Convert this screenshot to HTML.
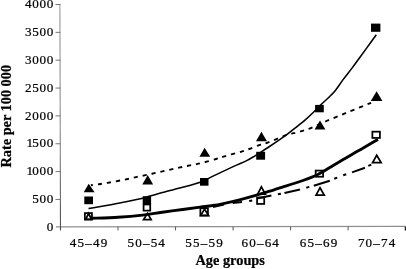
<!DOCTYPE html>
<html><head><meta charset="utf-8"><title>Rate per 100 000 by age groups</title>
<style>
html,body{margin:0;padding:0;background:#fff;}
body{width:406px;height:269px;overflow:hidden;}
svg{display:block;}
text{font-family:"Liberation Serif","DejaVu Serif",serif;fill:#000;stroke:#000;stroke-width:0.22px;}
.tick{font-size:13.1px;}
.ttl{font-size:13.5px;font-weight:bold;}
</style></head><body>
<svg width="406" height="269" viewBox="0 0 406 269">
<rect x="0" y="0" width="406" height="269" fill="#fff"/>

<line x1="56" y1="226.9" x2="406" y2="226.4" stroke="#909090" stroke-width="1.2"/>
<defs><linearGradient id="ag" gradientUnits="userSpaceOnUse" x1="0" y1="4" x2="0" y2="230"><stop offset="0" stop-color="#9a9a9a"/><stop offset="0.6" stop-color="#8a8a8a"/><stop offset="1" stop-color="#505050"/></linearGradient></defs><line x1="59.9" y1="4.0" x2="60.5" y2="230.6" stroke="url(#ag)" stroke-width="1.1"/>
<line x1="55.5" y1="4.50" x2="60.5" y2="4.50" stroke="#777" stroke-width="1"/>
<text class="tick" x="24.90 32.20 39.50 46.80" y="8.20">4000</text>
<line x1="55.5" y1="32.35" x2="60.5" y2="32.35" stroke="#777" stroke-width="1"/>
<text class="tick" x="24.90 32.20 39.50 46.80" y="36.05">3500</text>
<line x1="55.5" y1="60.20" x2="60.5" y2="60.20" stroke="#777" stroke-width="1"/>
<text class="tick" x="24.90 32.20 39.50 46.80" y="63.90">3000</text>
<line x1="55.5" y1="88.05" x2="60.5" y2="88.05" stroke="#777" stroke-width="1"/>
<text class="tick" x="24.90 32.20 39.50 46.80" y="91.75">2500</text>
<line x1="55.5" y1="115.90" x2="60.5" y2="115.90" stroke="#777" stroke-width="1"/>
<text class="tick" x="24.90 32.20 39.50 46.80" y="119.60">2000</text>
<line x1="55.5" y1="143.75" x2="60.5" y2="143.75" stroke="#777" stroke-width="1"/>
<text class="tick" x="26.50 32.20 39.50 46.80" y="147.45">1500</text>
<line x1="55.5" y1="171.60" x2="60.5" y2="171.60" stroke="#777" stroke-width="1"/>
<text class="tick" x="26.50 32.20 39.50 46.80" y="175.30">1000</text>
<line x1="55.5" y1="199.45" x2="60.5" y2="199.45" stroke="#777" stroke-width="1"/>
<text class="tick" x="32.20 39.50 46.80" y="203.15">500</text>
<text class="tick" x="46.80" y="230.60">0</text>
<line x1="118.02" y1="226.70000000000002" x2="118.02" y2="230.4" stroke="#5a5a5a" stroke-width="1"/>
<line x1="175.54" y1="226.70000000000002" x2="175.54" y2="230.4" stroke="#5a5a5a" stroke-width="1"/>
<line x1="233.06" y1="226.70000000000002" x2="233.06" y2="230.4" stroke="#5a5a5a" stroke-width="1"/>
<line x1="290.58" y1="226.70000000000002" x2="290.58" y2="230.4" stroke="#5a5a5a" stroke-width="1"/>
<line x1="348.10" y1="226.70000000000002" x2="348.10" y2="230.4" stroke="#5a5a5a" stroke-width="1"/>
<line x1="405.4" y1="226.70000000000002" x2="405.4" y2="230.6" stroke="#222" stroke-width="1.4"/>
<text class="tick" x="88.5" y="247.2" text-anchor="middle" textLength="37.4" lengthAdjust="spacing">45–49</text>
<text class="tick" x="146.2" y="247.2" text-anchor="middle" textLength="37.4" lengthAdjust="spacing">50–54</text>
<text class="tick" x="204.0" y="247.2" text-anchor="middle" textLength="37.4" lengthAdjust="spacing">55–59</text>
<text class="tick" x="260.2" y="247.2" text-anchor="middle" textLength="37.4" lengthAdjust="spacing">60–64</text>
<text class="tick" x="318.5" y="247.2" text-anchor="middle" textLength="37.4" lengthAdjust="spacing">65–69</text>
<text class="tick" x="376.6" y="247.2" text-anchor="middle" textLength="37.4" lengthAdjust="spacing">70–74</text>
<text class="ttl" style="font-size:14.35px" x="230.2" y="265.4" text-anchor="middle">Age groups</text>
<text class="ttl" style="font-size:14.3px" transform="translate(10.6,167.5) rotate(-90) scale(1,1.05)">Rate per 100 000</text>
<path d="M88.5,208.6 C92.83,207.85 106.47,205.60 114.5,204.1 C122.53,202.60 130.78,200.93 136.7,199.6 C142.62,198.27 145.73,197.28 150,196.1 C154.27,194.92 156.53,194.05 162.3,192.5 C168.07,190.95 178.28,188.52 184.6,186.8 C190.92,185.08 195.97,183.73 200.2,182.2 C204.43,180.67 206.72,179.15 210,177.6 C213.28,176.05 215.77,174.85 219.9,172.9 C224.03,170.95 230.33,167.95 234.8,165.9 C239.27,163.85 243.33,162.28 246.7,160.6 C250.07,158.92 252.45,157.35 255,155.8 C257.55,154.25 259.58,152.85 262,151.3 C264.42,149.75 266.62,148.40 269.5,146.5 C272.38,144.60 276.15,142.10 279.3,139.9 C282.45,137.70 285.50,135.48 288.4,133.3 C291.30,131.12 293.93,129.00 296.7,126.8 C299.47,124.60 302.12,122.60 305,120.1 C307.88,117.60 311.10,114.60 314,111.8 C316.90,109.00 319.13,106.50 322.4,103.3 C325.67,100.10 330.18,96.50 333.6,92.6 C337.02,88.70 339.80,84.02 342.9,79.9 C346.00,75.78 349.57,71.38 352.2,67.9 C354.83,64.42 356.27,62.33 358.7,59.0 C361.13,55.67 363.87,51.93 366.8,47.9 C369.73,43.87 374.72,36.98 376.3,34.8" fill="none" stroke="#000" stroke-width="1.55"/>
<path d="M91.6,218.3 C96.00,218.12 109.50,217.73 118,217.2 C126.50,216.67 135.22,215.93 142.6,215.1 C149.98,214.27 155.30,213.18 162.3,212.2 C169.30,211.22 178.28,210.05 184.6,209.2 C190.92,208.35 195.63,207.70 200.2,207.1 C204.77,206.50 208.33,206.15 212,205.6 C215.67,205.05 217.62,204.77 222.2,203.8 C226.78,202.83 233.75,201.23 239.5,199.8 C245.25,198.37 250.95,196.87 256.7,195.2 C262.45,193.53 269.70,191.13 274,189.8 C278.30,188.47 277.68,188.75 282.5,187.2 C287.32,185.65 297.10,182.58 302.9,180.5 C308.70,178.42 312.52,177.05 317.3,174.7 C322.08,172.35 327.12,169.02 331.6,166.4 C336.08,163.78 340.13,161.38 344.2,159.0 C348.27,156.62 351.98,154.42 356,152.1 C360.02,149.78 364.63,147.22 368.3,145.1 C371.97,142.98 376.38,140.35 378,139.4" fill="none" stroke="#000" stroke-width="2.9"/>
<path d="M90.9,185.3 C92.22,185.12 96.05,184.60 98.8,184.2 C101.55,183.80 104.07,183.47 107.4,182.9 C110.73,182.33 115.18,181.50 118.8,180.8 C122.42,180.10 125.80,179.42 129.1,178.7 C132.40,177.98 135.47,177.17 138.6,176.5 C141.73,175.83 144.82,175.35 147.9,174.7 C150.98,174.05 154.03,173.30 157.1,172.6 C160.17,171.90 163.25,171.20 166.3,170.5 C169.35,169.80 172.38,169.07 175.4,168.4 C178.42,167.73 181.30,167.13 184.4,166.5 C187.50,165.87 190.75,165.27 194,164.6 C197.25,163.93 200.22,163.43 203.9,162.5 C207.58,161.57 212.85,159.98 216.1,159.0 C219.35,158.02 220.72,157.40 223.4,156.6 C226.08,155.80 229.17,155.03 232.2,154.2 C235.23,153.37 238.77,152.47 241.6,151.6 C244.43,150.73 246.37,150.03 249.2,149 C252.03,147.97 255.60,146.43 258.6,145.4 C261.60,144.37 262.60,144.50 267.2,142.8 C271.80,141.10 281.03,136.98 286.2,135.2 C291.37,133.42 294.18,133.25 298.2,132.1 C302.22,130.95 305.58,130.15 310.3,128.3 C315.02,126.45 320.22,123.68 326.5,121.0 C332.78,118.32 340.57,115.23 348,112.2 C355.43,109.17 367.25,104.37 371.1,102.8" fill="none" stroke="#000" stroke-width="1.9" stroke-dasharray="4.2 4.9" stroke-dashoffset="2"/>
<line x1="213" y1="206.9" x2="224" y2="204.6" stroke="#000" stroke-width="2"/>
<line x1="232.6" y1="202.9" x2="242" y2="201.9" stroke="#000" stroke-width="2"/>
<line x1="249.2" y1="201.0" x2="252.2" y2="200.4" stroke="#000" stroke-width="2"/>
<line x1="256.7" y1="198.6" x2="271.4" y2="195.4" stroke="#000" stroke-width="2"/>
<line x1="277.9" y1="194.3" x2="280.9" y2="193.7" stroke="#000" stroke-width="2"/>
<line x1="284.5" y1="193" x2="300.0" y2="189.5" stroke="#000" stroke-width="2"/>
<line x1="306.3" y1="187.8" x2="309.3" y2="186.9" stroke="#000" stroke-width="2"/>
<line x1="313.8" y1="185.7" x2="329.8" y2="180.7" stroke="#000" stroke-width="2"/>
<line x1="334.2" y1="178.7" x2="337.2" y2="177.6" stroke="#000" stroke-width="2"/>
<line x1="343.2" y1="175.3" x2="346.2" y2="174.2" stroke="#000" stroke-width="2"/>
<line x1="352" y1="172.4" x2="365" y2="167.8" stroke="#000" stroke-width="2"/>
<line x1="368.3" y1="165.9" x2="371.3" y2="164.6" stroke="#000" stroke-width="2"/>
<rect x="84.3" y="196.5" width="8.70" height="7.70" fill="#000"/>
<rect x="142.7" y="196.2" width="8.40" height="7.80" fill="#000"/>
<rect x="200" y="178" width="8.50" height="7.70" fill="#000"/>
<rect x="256.2" y="151.8" width="8.90" height="7.90" fill="#000"/>
<rect x="315.1" y="104.9" width="8.70" height="7.40" fill="#000"/>
<rect x="371" y="23.6" width="9.40" height="8.20" fill="#000"/>
<polygon points="88.7,183.7 94.6,192.3 83.7,192.3" fill="#000"/>
<polygon points="147.7,175.0 153.1,184.5 142.3,184.5" fill="#000"/>
<polygon points="204.6,147.8 210.2,156.8 199.4,156.8" fill="#000"/>
<polygon points="261.4,131.8 267.0,141.3 256.0,141.3" fill="#000"/>
<polygon points="320.0,120.5 325.4,129.5 314.5,129.5" fill="#000"/>
<polygon points="376.6,91.3 382.4,100.9 370.8,100.9" fill="#000"/>
<rect x="84.875" y="213.075" width="7.05" height="6.45" fill="none" stroke="#000" stroke-width="1.75"/>
<rect x="143.575" y="204.475" width="6.65" height="6.15" fill="none" stroke="#000" stroke-width="1.75"/>
<rect x="200.375" y="208.275" width="7.55" height="7.15" fill="none" stroke="#000" stroke-width="1.75"/>
<rect x="257.075" y="197.475" width="7.15" height="6.45" fill="none" stroke="#000" stroke-width="1.75"/>
<rect x="315.675" y="170.575" width="7.45" height="6.15" fill="none" stroke="#000" stroke-width="1.75"/>
<rect x="372.375" y="131.675" width="7.55" height="6.25" fill="none" stroke="#000" stroke-width="1.75"/>
<polygon points="88.6,213.5 91.5,219.39999999999998 85.7,219.39999999999998" fill="none" stroke="#000" stroke-width="1.75" stroke-linejoin="miter"/>
<polygon points="147.5,213.4 151.1,219.5 143.60000000000002,219.5" fill="none" stroke="#000" stroke-width="1.75" stroke-linejoin="miter"/>
<polygon points="204.5,209.1 208.6,215.6 200.70000000000002,215.6" fill="none" stroke="#000" stroke-width="1.75" stroke-linejoin="miter"/>
<polygon points="261.4,186.8 265.3,194.1 257.6,194.1" fill="none" stroke="#000" stroke-width="1.75" stroke-linejoin="miter"/>
<polygon points="320.0,187.7 324.2,195.0 316.1,195.0" fill="none" stroke="#000" stroke-width="1.75" stroke-linejoin="miter"/>
<polygon points="376.7,155.3 381.09999999999997,162.5 372.6,162.5" fill="none" stroke="#000" stroke-width="1.75" stroke-linejoin="miter"/>
</svg></body></html>
